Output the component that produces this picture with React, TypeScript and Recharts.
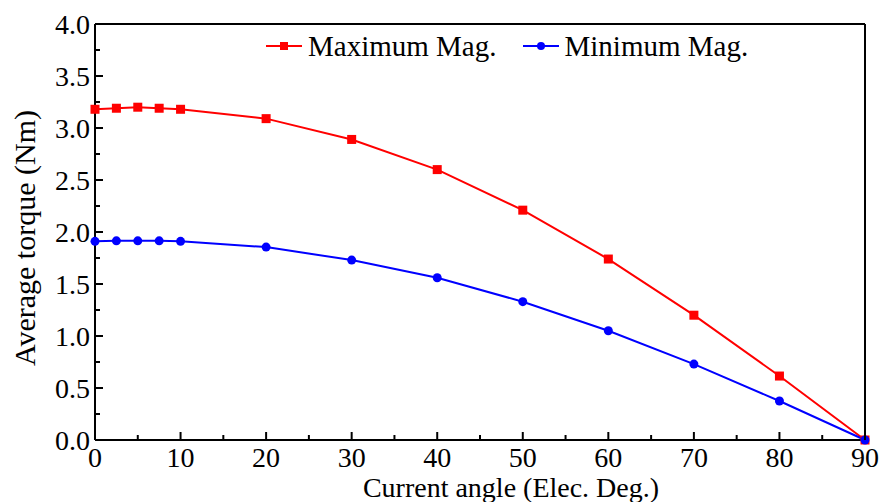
import { CartesianGrid, Label, Line, LineChart, ReferenceLine, XAxis, YAxis } from 'recharts';

const angles = [0, 2.5, 5, 7.5, 10, 20, 30, 40, 50, 60, 70, 80, 90];
const maxMag = [3.18, 3.19, 3.2, 3.19, 3.18, 3.09, 2.89, 2.6, 2.21, 1.74, 1.2, 0.615, 0];
const minMag = [1.91, 1.915, 1.915, 1.915, 1.91, 1.855, 1.73, 1.56, 1.33, 1.05, 0.73, 0.375, 0];

const xTicks = [0, 5, 10, 15, 20, 25, 30, 35, 40, 45, 50, 55, 60, 65, 70, 75, 80, 85, 90];
const yTicks = [0, 0.25, 0.5, 0.75, 1, 1.25, 1.5, 1.75, 2, 2.25, 2.5, 2.75, 3, 3.25, 3.5, 3.75, 4];

const data = angles.map((a, i) => ({ angle: a, max: maxMag[i], min: minMag[i] }));

const FONT = '"Liberation Serif", "Times New Roman", serif';
const RED = '#ff0000';
const BLUE = '#0000ff';

function XTick({ x, y, payload }: any) {
  const major = payload.value % 10 === 0;
  return (
    <g>
      <line x1={x} y1={y} x2={x} y2={y - (major ? 8 : 5)} stroke="#000" strokeWidth={2} />
      {major && (
        <text x={x} y={y + 27} textAnchor="middle" fontFamily={FONT} fontSize={28} fill="#000">
          {payload.value}
        </text>
      )}
    </g>
  );
}

function YTick({ x, y, payload }: any) {
  const major = Math.abs(payload.value * 2 - Math.round(payload.value * 2)) < 1e-6;
  return (
    <g>
      <line x1={x} y1={y} x2={x + (major ? 8 : 5)} y2={y} stroke="#000" strokeWidth={2} />
      {major && (
        <text x={x - 5} y={y + 10} textAnchor="end" fontFamily={FONT} fontSize={28} fill="#000">
          {payload.value.toFixed(1)}
        </text>
      )}
    </g>
  );
}

function XTitle({ viewBox }: any) {
  return (
    <text x={viewBox.x + viewBox.width / 2 + 31} y={497} textAnchor="middle" fontFamily={FONT} fontSize={28} fill="#000">
      Current angle (Elec. Deg.)
    </text>
  );
}

function YTitle() {
  return (
    <text x={35} y={238} transform="rotate(-90, 35, 238)" textAnchor="middle" fontFamily={FONT} fontSize={30} fill="#000">
      Average torque (Nm)
    </text>
  );
}

function SquareDot({ cx, cy }: any) {
  return <rect x={cx - 4.5} y={cy - 4.5} width={9} height={9} fill={RED} />;
}

function CircleDot({ cx, cy }: any) {
  return <circle cx={cx} cy={cy} r={4.5} fill={BLUE} />;
}

// legend sits inside the plot frame, so it is laid over the chart instead of taking layout space
function LegendBox() {
  const item = (label: string, color: string, square: boolean, gap: number) => (
    <div style={{ display: 'flex', alignItems: 'center', marginRight: gap, height: 30 }}>
      <svg width={36} height={12} style={{ display: 'block' }}>
        <line x1={0} y1={6} x2={36} y2={6} stroke={color} strokeWidth={2} />
        {square ? <rect x={14} y={2} width={8} height={8} fill={color} /> : <circle cx={18} cy={6} r={4} fill={color} />}
      </svg>
      <span style={{ fontFamily: FONT, fontSize: 29, lineHeight: '30px', color: '#000', marginLeft: 6 }}>{label}</span>
    </div>
  );
  return (
    <div style={{ position: 'absolute', top: 31, left: 266, display: 'flex' }}>
      {item('Maximum Mag.', RED, true, 26)}
      {item('Minimum Mag.', BLUE, false, 0)}
    </div>
  );
}

export default function App() {
  return (
    <div style={{ position: 'fixed', left: 0, top: 0, width: 882, height: 502, background: '#fff' }}>
      <LineChart width={882} height={502} data={data} margin={{ top: 24, right: 17, bottom: 0, left: 0 }}>
        <CartesianGrid stroke="none" />
        <XAxis
          dataKey="angle"
          type="number"
          domain={[0, 90]}
          ticks={xTicks}
          interval={0}
          tickSize={0}
          tickMargin={0}
          tickLine={false}
          tick={<XTick />}
          axisLine={{ stroke: '#000', strokeWidth: 2 }}
          height={62}
        >
          <Label content={<XTitle />} />
        </XAxis>
        <YAxis
          type="number"
          domain={[0, 4]}
          ticks={yTicks}
          interval={0}
          tickSize={0}
          tickMargin={0}
          tickLine={false}
          tick={<YTick />}
          axisLine={{ stroke: '#000', strokeWidth: 2 }}
          width={95}
        >
          <Label content={<YTitle />} />
        </YAxis>
        <ReferenceLine y={4} stroke="#000" strokeWidth={2} />
        <ReferenceLine x={90} stroke="#000" strokeWidth={2} />
        <Line type="linear" dataKey="max" stroke={RED} strokeWidth={2} dot={<SquareDot />} activeDot={false} isAnimationActive={false} />
        <Line type="linear" dataKey="min" stroke={BLUE} strokeWidth={2} dot={<CircleDot />} activeDot={false} isAnimationActive={false} />
      </LineChart>
      <LegendBox />
    </div>
  );
}
